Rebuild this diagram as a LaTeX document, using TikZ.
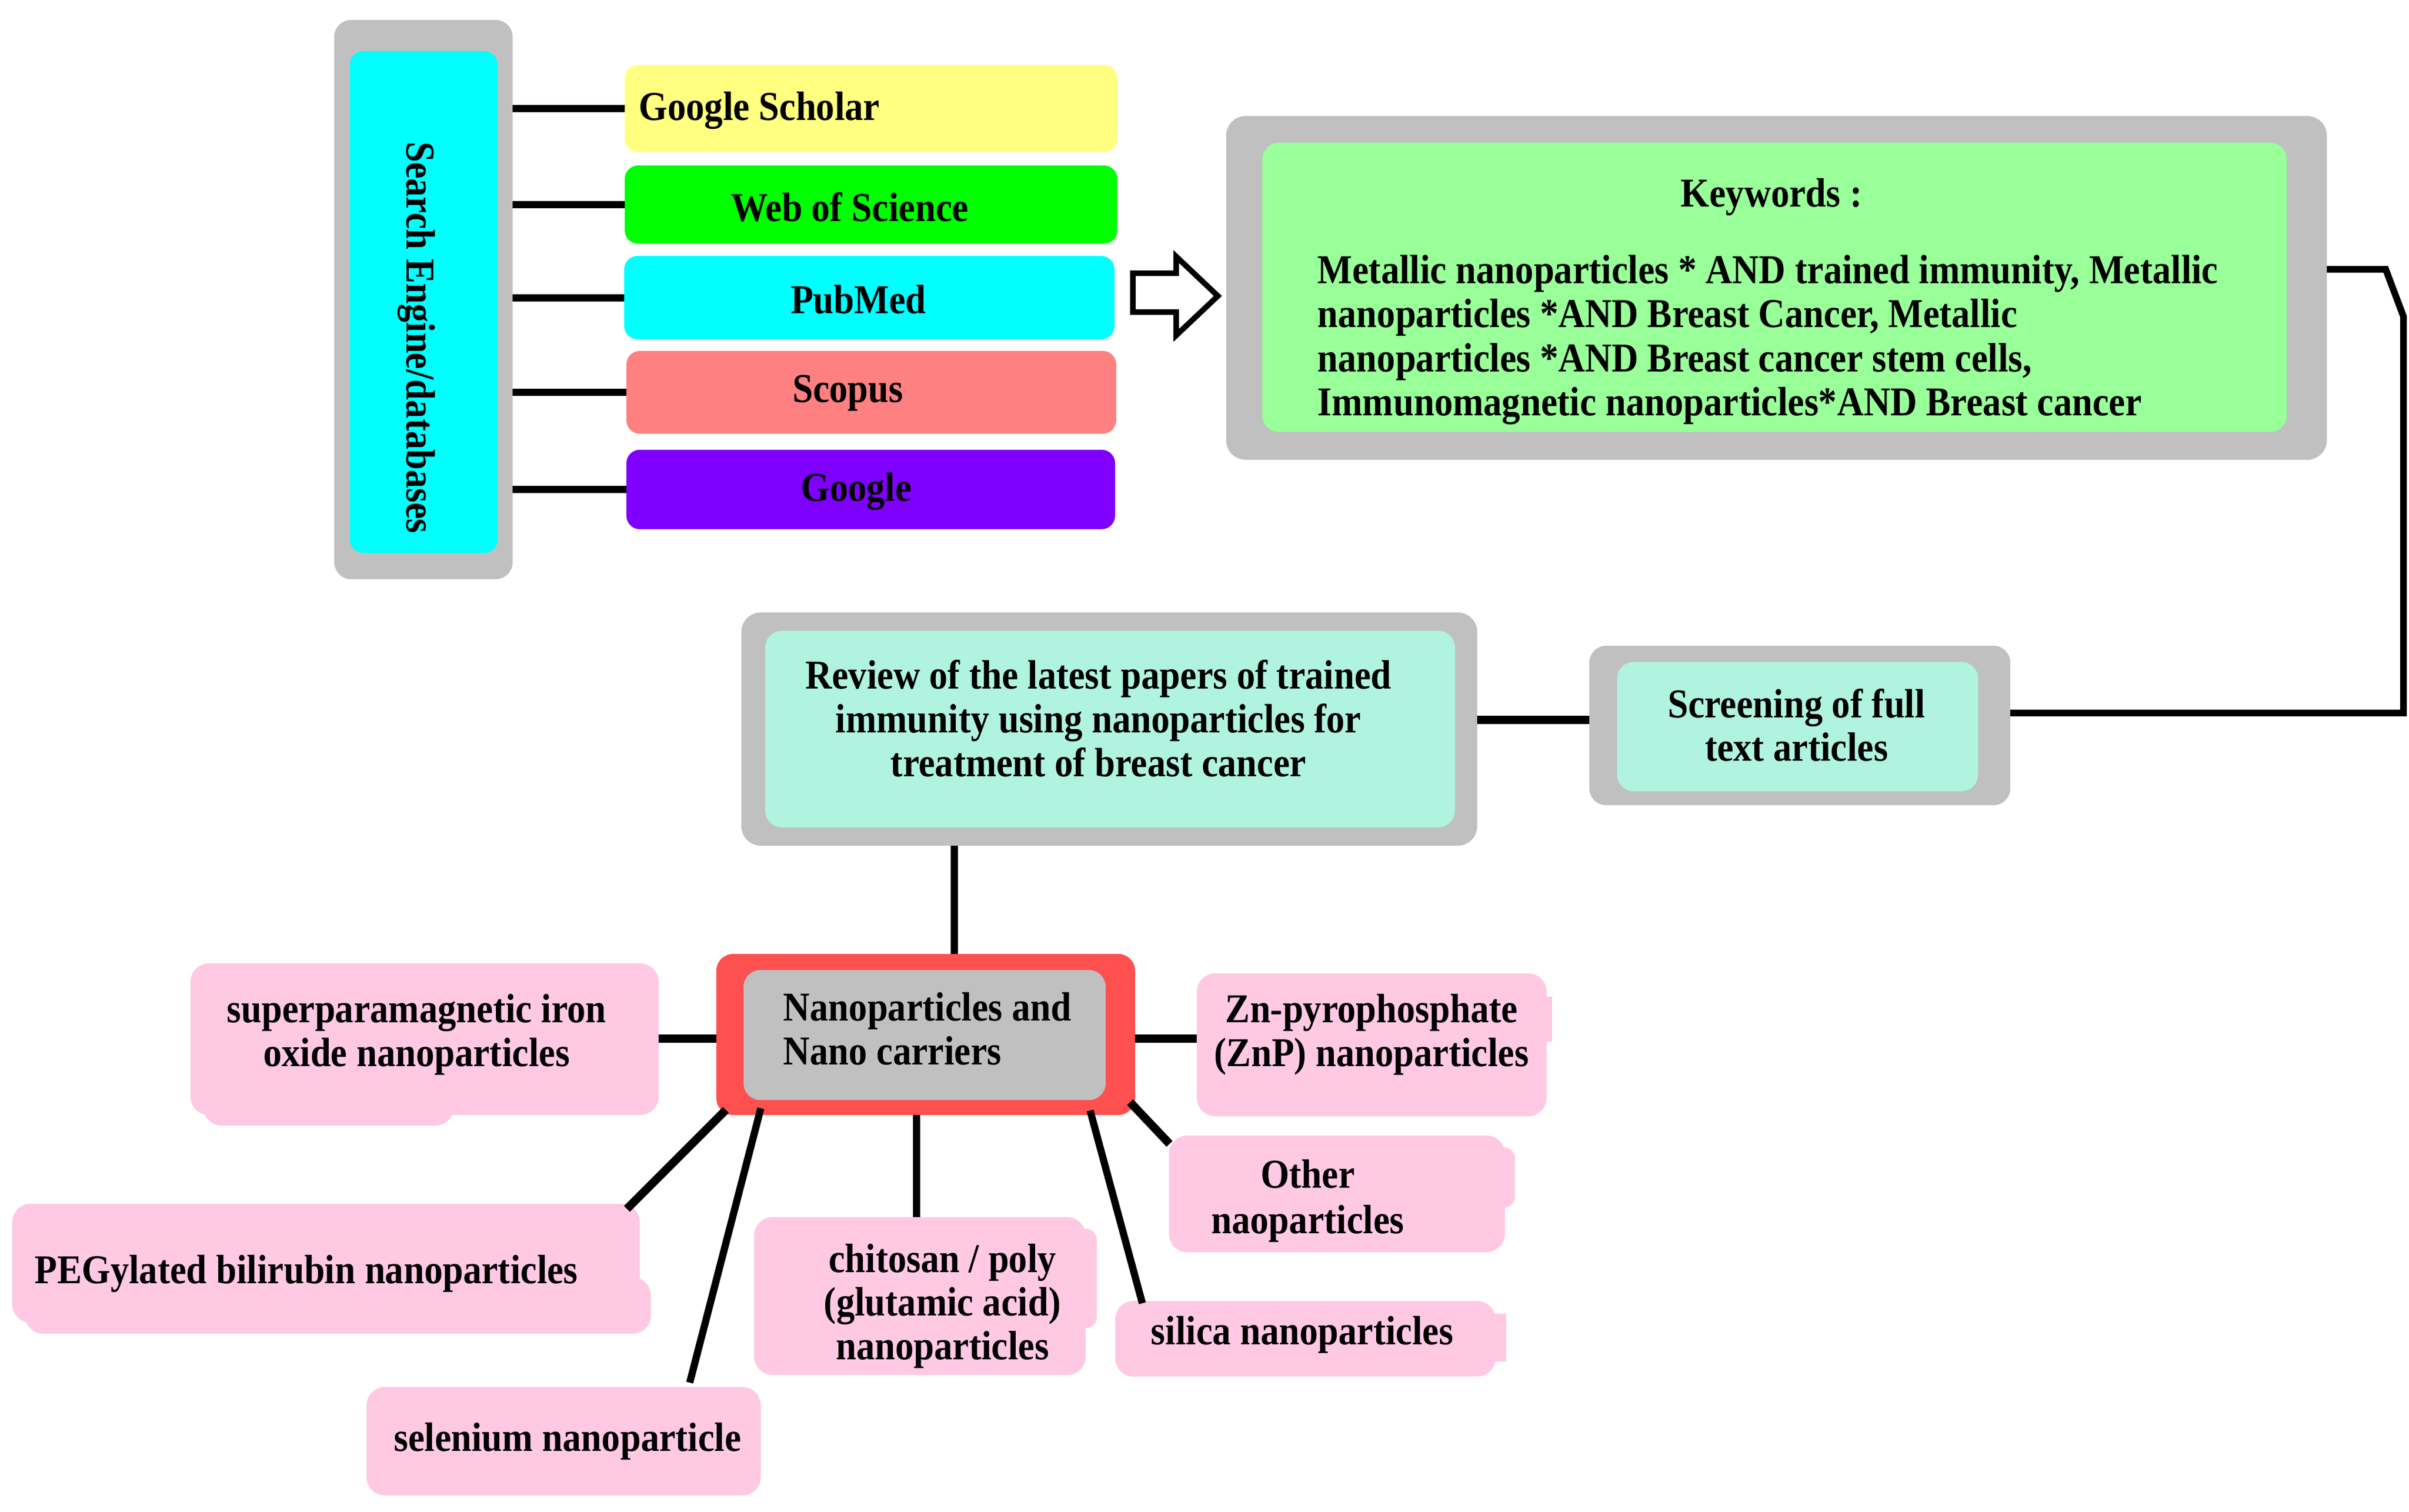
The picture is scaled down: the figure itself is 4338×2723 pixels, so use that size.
\documentclass[tikz,border=0pt]{standalone}
\usepackage{fontspec}
\setmainfont{Liberation Serif}[FakeStretch=0.9]
\usetikzlibrary{calc}
\definecolor{gray75}{HTML}{C0C0C0}
\definecolor{cyanc}{HTML}{00FFFF}
\definecolor{yel}{HTML}{FFFF80}
\definecolor{grn}{HTML}{00FF00}
\definecolor{sal}{HTML}{FF8080}
\definecolor{purp}{HTML}{8000FF}
\definecolor{lgrn}{HTML}{99FF99}
\definecolor{aqua}{HTML}{B0F4DF}
\definecolor{redc}{HTML}{FF5050}
\definecolor{pinkc}{HTML}{FFC9E4}
\begin{document}
\begin{tikzpicture}[x=0.1mm,y=-0.1mm,
  bx/.style={rectangle, inner sep=0pt, outer sep=0pt, rounded corners=2.4mm, draw=none},
  pk/.style={bx, rounded corners=3.3mm, fill=pinkc},
  txt/.style={font=\fontsize{21}{22.4}\selectfont\bfseries, inner sep=0pt, align=center, text=black},
  ln/.style={line width=1.3mm, draw=black},
  lnb/.style={line width=1.5mm, draw=black}]
\useasboundingbox (0,0) rectangle (4338,2723);
\fill[white] (0,0) rectangle (4338,2723);

% ---------- search engines ----------
\node[bx, rounded corners=3mm, fill=gray75, minimum width=32.1mm, minimum height=100.7mm] (sgray) at (762.5,539.5) {};
\node[bx, fill=cyanc, minimum width=26.6mm, minimum height=90.4mm] (scyan) at (763,544) {};
\node[txt, rotate=-90] (stxt) at (750,608) {Search Engine/databases};

\node[bx, fill=yel, minimum width=88.7mm, minimum height=15.7mm] (gs) at (1568.5,195.5) {};
\node[txt, anchor=west] (gstx) at (1150,199) {Google Scholar};
\node[bx, fill=grn, minimum width=88.7mm, minimum height=14.1mm] (wos) at (1568.5,368.5) {};
\node[txt] (wostx) at (1530,373) {Web of Science};
\node[bx, fill=cyanc, minimum width=88.3mm, minimum height=15mm] (pm) at (1565.5,536) {};
\node[txt] (pmtx) at (1546,539) {PubMed};
\node[bx, fill=sal, minimum width=88.2mm, minimum height=14.9mm] (sc) at (1569,706.5) {};
\node[txt] (sctx) at (1527,708) {Scopus};
\node[bx, fill=purp, minimum width=88mm, minimum height=14.3mm] (gg) at (1568,881.5) {};
\node[txt] (ggtx) at (1542,885) {Google};

\draw[ln] (sgray.east |- gs.west) -- (gs.west);
\draw[ln] (sgray.east |- wos.west) -- (wos.west);
\draw[ln] (sgray.east |- pm.west) -- (pm.west);
\draw[ln] (sgray.east |- sc.west) -- (sc.west);
\draw[ln] (sgray.east |- gg.west) -- (gg.west);

% ---------- hollow arrow ----------
\draw[line width=1mm, fill=white, line join=miter] (2040,492) -- (2118,492) -- (2118,462) -- (2193,533) -- (2118,604) -- (2118,562) -- (2040,562) -- cycle;

% ---------- keywords ----------
\node[bx, rounded corners=3.5mm, fill=gray75, minimum width=198.2mm, minimum height=61.9mm] (kwgray) at (3199,518.5) {};
\node[bx, rounded corners=3mm, fill=lgrn, minimum width=184.5mm, minimum height=52.1mm] (kwgrn) at (3195.5,517.5) {};
\node[txt] (kwtitle) at (3190,355) {Keywords :};
\node[txt, align=left, anchor=west, font=\fontsize{21}{22.6}\selectfont\bfseries] (kwbody) at (2372,612) {Metallic nanoparticles * AND trained immunity, Metallic\\nanoparticles *AND Breast Cancer, Metallic\\nanoparticles *AND Breast cancer stem cells,\\Immunomagnetic nanoparticles*AND Breast cancer};

% ---------- review & screening ----------
\node[bx, rounded corners=3.5mm, fill=gray75, minimum width=132.5mm, minimum height=42mm] (revgray) at (1997.5,1313) {};
\node[bx, rounded corners=3mm, fill=aqua, minimum width=124.2mm, minimum height=35.4mm] (revin) at (1999,1313) {};
\node[txt] (revtx) at (1978,1294) {Review of the latest papers of trained\\immunity using nanoparticles for\\treatment of breast cancer};

\node[bx, rounded corners=3mm, fill=gray75, minimum width=75.8mm, minimum height=28.7mm] (scrgray) at (3241,1306.5) {};
\node[bx, rounded corners=3mm, fill=aqua, minimum width=65mm, minimum height=23.3mm] (scrin) at (3237,1308.5) {};
\node[txt] (scrtx) at (3235,1306) {Screening of full\\text articles};

\coordinate (k1) at (4296,485);
\coordinate (k2) at (4328,570);
\coordinate (k3) at (4328,1284);
\draw[ln, line width=1.2mm, line join=miter] (kwgray.east |- k1) -- (k1) -- (k2) -- (k3) -- (scrgray.east |- k3);

\coordinate (rs) at (0,1296);
\draw[lnb] (revgray.east |- rs) -- (scrgray.west |- rs);

% ---------- nanoparticles hub ----------
\node[bx, rounded corners=3mm, fill=redc, minimum width=75.4mm, minimum height=29mm] (nanored) at (1667,1863) {};
\node[bx, rounded corners=3mm, fill=gray75, minimum width=65.2mm, minimum height=23.4mm] (nanoin) at (1665,1864) {};
\node[txt, align=left, anchor=west] (nanotx) at (1410,1853) {Nanoparticles and\\Nano carriers};

\coordinate (rn) at (1718,0);
\draw[ln] (revgray.south -| rn) -- (nanored.north -| rn);

% ---------- pink boxes ----------
\fill[pinkc, rounded corners=3.3mm] (366,1900) rectangle (817,2027);
\node[pk, minimum width=84.3mm, minimum height=27.3mm] (spion) at (764.5,1871.5) {};
\node[txt] (spiontx) at (750,1863) {superparamagnetic iron\\oxide nanoparticles};

\fill[pinkc] (2778,1795) rectangle (2795,1876);
\node[pk, minimum width=63mm, minimum height=25.7mm] (znp) at (2470,1881.5) {};
\node[txt] (znptx) at (2470,1863) {Zn-pyrophosphate\\(ZnP) nanoparticles};

\fill[pinkc, rounded corners=2mm] (2690,2066) rectangle (2728,2175);
\node[pk, minimum width=60.5mm, minimum height=21mm] (other) at (2407.5,2150) {};
\node[txt, font=\fontsize{21}{23.4}\selectfont\bfseries] (othertx) at (2355,2163) {Other\\naoparticles};

\fill[pinkc] (2680,2366) rectangle (2712,2452);
\node[pk, minimum width=68.5mm, minimum height=13.6mm] (silica) at (2350.5,2411) {};
\node[txt] (silicatx) at (2345,2404) {silica nanoparticles};

\fill[pinkc, rounded corners=2mm] (1935,2213) rectangle (1975,2392);
\node[pk, minimum width=59.7mm, minimum height=28.4mm] (chito) at (1656.5,2334) {};
\node[txt] (chitotx) at (1697,2352) {chitosan / poly\\(glutamic acid)\\nanoparticles};

\fill[pinkc, rounded corners=3.3mm] (45,2300) rectangle (1172,2402);
\node[pk, minimum width=113mm, minimum height=21.4mm] (peg) at (587,2275) {};
\node[txt, anchor=west] (pegtx) at (62,2294) {PEGylated bilirubin nanoparticles};

\node[pk, minimum width=71mm, minimum height=19.5mm] (sel) at (1015,2595.5) {};
\node[txt] (seltx) at (1022,2596) {selenium nanoparticle};

% ---------- hub connectors ----------
\coordinate (ly) at (0,1870);
\draw[lnb] (spion.east |- ly) -- (nanored.west |- ly);
\draw[lnb] (nanored.east |- ly) -- (znp.west |- ly);
\draw[lnb] ($(nanored.south east)+(-9,-23)$) -- ($(other.north west)+(1,15)$);
\draw[ln] ($(nanored.south east)+(-81,-8)$) -- ($(silica.north west)+(49,4)$);
\coordinate (cx) at (1650,0);
\draw[ln] (nanored.south -| cx) -- (chito.north -| cx);
\draw[lnb] ($(nanored.south west)+(17,-9)$) -- ($(peg.north east)+(-23,9)$);
\draw[ln] ($(nanored.south west)+(80,-12)$) -- ($(sel.north)+(227,-8)$);
\end{tikzpicture}
\end{document}
